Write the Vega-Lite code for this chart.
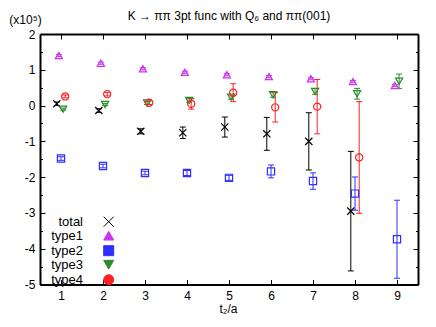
{
  "$schema": "https://vega.github.io/schema/vega-lite/v6.json",
  "width": 378,
  "height": 250.5,
  "autosize": {"type": "none"},
  "padding": {"left": 40, "top": 34, "right": 18, "bottom": 42.5},
  "background": "white",
  "title": {"text": "K → ππ 3pt func with Q₆ and ππ(001)", "font": "Liberation Sans", "fontSize": 12, "fontWeight": "normal", "color": "black", "anchor": "middle", "offset": -9},
  "data": {"values": [
    {"t": 0.9, "series": "total", "v": 0.05, "lo": 0.0, "hi": 0.1},
    {"t": 1.9, "series": "total", "v": -0.14, "lo": -0.19, "hi": -0.09},
    {"t": 2.9, "series": "total", "v": -0.72, "lo": -0.79, "hi": -0.65},
    {"t": 3.9, "series": "total", "v": -0.76, "lo": -0.92, "hi": -0.6},
    {"t": 4.9, "series": "total", "v": -0.6, "lo": -0.88, "hi": -0.32},
    {"t": 5.9, "series": "total", "v": -0.79, "lo": -1.25, "hi": -0.33},
    {"t": 6.9, "series": "total", "v": -1.0, "lo": -1.8, "hi": -0.2},
    {"t": 7.9, "series": "total", "v": -2.95, "lo": -4.62, "hi": -1.28},
    {"t": 0.95, "series": "type1", "v": 1.4, "lo": 1.37, "hi": 1.43},
    {"t": 1.95, "series": "type1", "v": 1.185, "lo": 1.155, "hi": 1.215},
    {"t": 2.95, "series": "type1", "v": 1.03, "lo": 1.0, "hi": 1.06},
    {"t": 3.95, "series": "type1", "v": 0.93, "lo": 0.9, "hi": 0.96},
    {"t": 4.95, "series": "type1", "v": 0.86, "lo": 0.83, "hi": 0.89},
    {"t": 5.95, "series": "type1", "v": 0.81, "lo": 0.78, "hi": 0.84},
    {"t": 6.95, "series": "type1", "v": 0.75, "lo": 0.72, "hi": 0.78},
    {"t": 7.95, "series": "type1", "v": 0.67, "lo": 0.64, "hi": 0.7},
    {"t": 8.95, "series": "type1", "v": 0.56, "lo": 0.53, "hi": 0.59},
    {"t": 1.0, "series": "type2", "v": -1.48, "lo": -1.53, "hi": -1.43},
    {"t": 2.0, "series": "type2", "v": -1.69, "lo": -1.74, "hi": -1.64},
    {"t": 3.0, "series": "type2", "v": -1.885, "lo": -1.935, "hi": -1.835},
    {"t": 4.0, "series": "type2", "v": -1.885, "lo": -1.955, "hi": -1.815},
    {"t": 5.0, "series": "type2", "v": -2.02, "lo": -2.09, "hi": -1.95},
    {"t": 6.0, "series": "type2", "v": -1.84, "lo": -2.02, "hi": -1.66},
    {"t": 7.0, "series": "type2", "v": -2.11, "lo": -2.34, "hi": -1.88},
    {"t": 8.0, "series": "type2", "v": -2.46, "lo": -2.925, "hi": -1.995},
    {"t": 9.0, "series": "type2", "v": -3.735, "lo": -4.825, "hi": -2.645},
    {"t": 1.05, "series": "type3", "v": -0.1, "lo": -0.13, "hi": -0.07},
    {"t": 2.05, "series": "type3", "v": 0.03, "lo": 0.0, "hi": 0.06},
    {"t": 3.05, "series": "type3", "v": 0.07, "lo": 0.03, "hi": 0.11},
    {"t": 4.05, "series": "type3", "v": 0.144, "lo": 0.094, "hi": 0.194},
    {"t": 5.05, "series": "type3", "v": 0.236, "lo": 0.176, "hi": 0.296},
    {"t": 6.05, "series": "type3", "v": 0.3, "lo": 0.23, "hi": 0.37},
    {"t": 7.05, "series": "type3", "v": 0.395, "lo": 0.315, "hi": 0.475},
    {"t": 8.05, "series": "type3", "v": 0.33, "lo": 0.18, "hi": 0.48},
    {"t": 9.05, "series": "type3", "v": 0.68, "lo": 0.48, "hi": 0.88},
    {"t": 1.1, "series": "type4", "v": 0.256, "lo": 0.216, "hi": 0.296},
    {"t": 2.1, "series": "type4", "v": 0.32, "lo": 0.27, "hi": 0.37},
    {"t": 3.1, "series": "type4", "v": 0.08, "lo": 0.03, "hi": 0.13},
    {"t": 4.1, "series": "type4", "v": 0.05, "lo": -0.1, "hi": 0.2},
    {"t": 5.1, "series": "type4", "v": 0.36, "lo": 0.11, "hi": 0.61},
    {"t": 6.1, "series": "type4", "v": -0.05, "lo": -0.46, "hi": 0.36},
    {"t": 7.1, "series": "type4", "v": -0.03, "lo": -0.79, "hi": 0.73},
    {"t": 8.1, "series": "type4", "v": -1.45, "lo": -3.01, "hi": 0.11}
  ]},
  "layer": [
    {
      "mark": {"type": "rule", "strokeWidth": 1},
      "encoding": {
        "x": {"field": "t", "type": "quantitative", "scale": {"domain": [0.5, 9.5], "nice": false, "zero": false},
          "axis": {"orient": "bottom", "values": [1, 2, 3, 4, 5, 6, 7, 8, 9], "tickSize": -5, "labelPadding": 11, "title": "t₂/a", "titleX": 188, "titleY": 28, "titleBaseline": "alphabetic", "titleAlign": "center"}},
        "y": {"field": "lo", "type": "quantitative", "scale": {"domain": [-5, 2], "nice": false, "zero": false},
          "axis": {"orient": "left", "values": [-5, -4.5, -4, -3.5, -3, -2.5, -2, -1.5, -1, -0.5, 0, 0.5, 1, 1.5, 2],
            "labelExpr": "datum.value % 1 === 0 ? '' + datum.value : ''",
            "tickSize": {"condition": {"test": "datum.value % 1 === 0", "value": -5}, "value": -2.5},
            "labelPadding": 10, "title": "(x10⁵)", "titleAngle": 0, "titleX": -15, "titleY": -14.5, "titleAlign": "center", "titleBaseline": "middle"}},
        "y2": {"field": "hi"},
        "color": {"field": "series", "type": "nominal",
          "scale": {"domain": ["total", "type1", "type2", "type3", "type4"], "range": ["#000000", "#cc33ee", "#2f2fff", "#2b8c2b", "#ff2020"]}}
      }
    },
    {
      "mark": {"type": "tick", "orient": "horizontal", "size": 6, "thickness": 1, "opacity": 1},
      "encoding": {
        "x": {"field": "t", "type": "quantitative",
          "axis": {"orient": "top", "values": [1, 2, 3, 4, 5, 6, 7, 8, 9], "tickSize": -5, "labels": false, "title": null}},
        "y": {"field": "lo", "type": "quantitative",
          "axis": {"orient": "right", "values": [-5, -4.5, -4, -3.5, -3, -2.5, -2, -1.5, -1, -0.5, 0, 0.5, 1, 1.5, 2],
            "tickSize": {"condition": {"test": "datum.value % 1 === 0", "value": -5}, "value": -2.5},
            "labels": false, "title": null}},
        "color": {"field": "series", "type": "nominal"}
      }
    },
    {
      "mark": {"type": "tick", "orient": "horizontal", "size": 6, "thickness": 1, "opacity": 1},
      "encoding": {
        "x": {"field": "t", "type": "quantitative", "axis": null},
        "y": {"field": "hi", "type": "quantitative", "axis": null},
        "color": {"field": "series", "type": "nominal"}
      }
    },
    {
      "mark": {"type": "point", "filled": false, "strokeWidth": 1.2, "opacity": 1, "size": 52},
      "encoding": {
        "x": {"field": "t", "type": "quantitative", "axis": null},
        "y": {"field": "v", "type": "quantitative", "axis": null},
        "color": {"field": "series", "type": "nominal"},
        "shape": {"field": "series", "type": "nominal",
          "scale": {"domain": ["total", "type1", "type2", "type3", "type4"],
            "range": ["M-1,-1L1,1M-1,1L1,-1", "triangle-up", "square", "triangle-down", "circle"]}}
      }
    }
  ],
  "resolve": {"axis": {"x": "independent", "y": "independent"}},
  "config": {
    "view": {"stroke": null},
    "font": "Liberation Sans",
    "axis": {"domainColor": "black", "domainWidth": 2, "tickColor": "black", "tickWidth": 1, "grid": false,
      "labelFont": "Liberation Sans", "labelFontSize": 12, "labelColor": "black", "labelFlush": false, "labelOverlap": false,
      "titleFont": "Liberation Sans", "titleFontSize": 12, "titleFontWeight": "normal", "titleColor": "black"},
    "legend": {
      "orient": "none", "legendX": 62.2, "legendY": 181.2, "title": null, "padding": 0,
      "labelAlign": "right", "labelOffset": -32.2, "labelFont": "Liberation Sans", "labelFontSize": 13, "labelColor": "black", "labelLimit": 0,
      "rowPadding": 0, "symbolSize": 100, "symbolStrokeWidth": 1
    }
  }
}
